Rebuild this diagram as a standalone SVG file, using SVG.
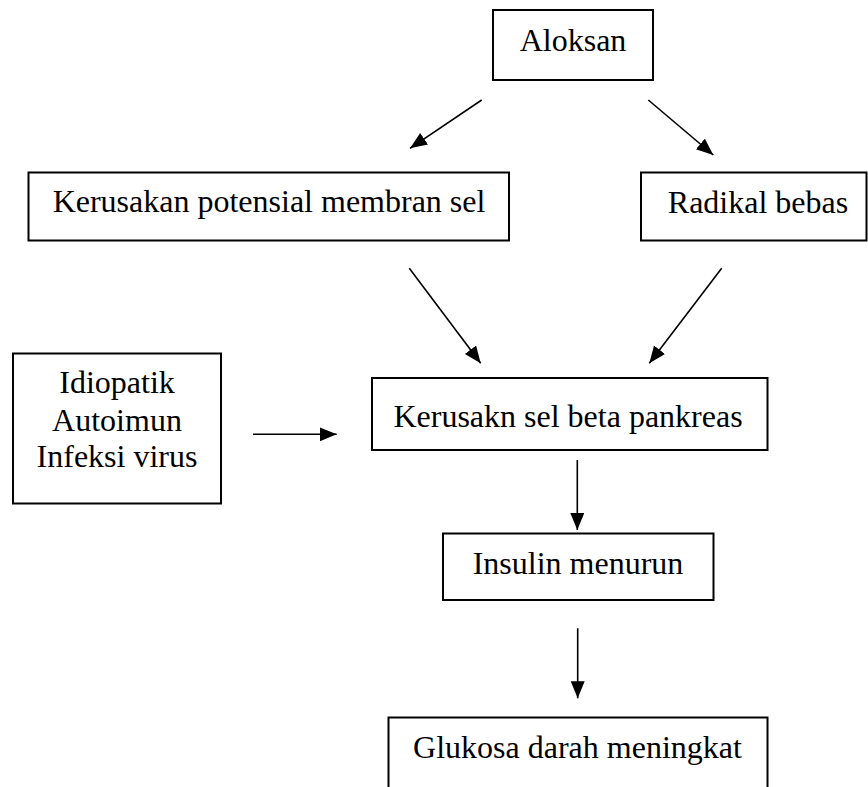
<svg xmlns="http://www.w3.org/2000/svg" width="868" height="787" viewBox="0 0 868 787">
<style>
.box{fill:#fff;stroke:#000;stroke-width:2}
.lbl{font-family:"Liberation Serif","Times New Roman",serif;font-size:32px;fill:#000;text-anchor:middle}
.edge{stroke:#000;stroke-width:1.6;fill:none;marker-end:url(#ah)}
</style>
<defs>
<marker id="ah" markerUnits="userSpaceOnUse" markerWidth="18" markerHeight="16" refX="17" refY="7" orient="auto">
<path d="M0,0 L17,7 L0,14 z" fill="#000"/>
</marker>
</defs>
<rect width="868" height="787" fill="#fff"/>
<g id="aloksan"><rect class="box" x="493" y="10" width="160" height="70"/><text class="lbl" x="573" y="51">Aloksan</text></g>
<g id="kerusakan-membran"><rect class="box" x="28.5" y="172.5" width="480.5" height="68"/><text class="lbl" x="269" y="212">Kerusakan potensial membran sel</text></g>
<g id="radikal"><rect class="box" x="641" y="172.5" width="225.5" height="68"/><text class="lbl" x="758" y="213">Radikal bebas</text></g>
<g id="idiopatik"><rect class="box" x="13" y="353.5" width="208" height="150"/><text class="lbl" x="117" y="393">Idiopatik</text><text class="lbl" x="117" y="430.5">Autoimun</text><text class="lbl" x="117" y="467">Infeksi virus</text></g>
<g id="kerusakan-beta"><rect class="box" x="372" y="378" width="395.5" height="72"/><text class="lbl" x="568" y="426.5">Kerusakn sel beta pankreas</text></g>
<g id="insulin"><rect class="box" x="443" y="533.5" width="270.5" height="66.5"/><text class="lbl" x="578" y="574">Insulin menurun</text></g>
<g id="glukosa"><rect class="box" x="388.5" y="717.5" width="379" height="80"/><text class="lbl" x="577.5" y="758">Glukosa darah meningkat</text></g>
<g id="connectors">
<line class="edge" x1="481.7" y1="100" x2="410" y2="148.3"/>
<line class="edge" x1="648.3" y1="100" x2="713.3" y2="155"/>
<line class="edge" x1="409.3" y1="268.3" x2="480.7" y2="363.3"/>
<line class="edge" x1="721.7" y1="268.3" x2="649.3" y2="363.3"/>
<line class="edge" x1="253" y1="434.3" x2="336.7" y2="434.3"/>
<line class="edge" x1="577.3" y1="460" x2="577.3" y2="530"/>
<line class="edge" x1="577.7" y1="628.3" x2="577.7" y2="698.3"/>
</g>
</svg>
